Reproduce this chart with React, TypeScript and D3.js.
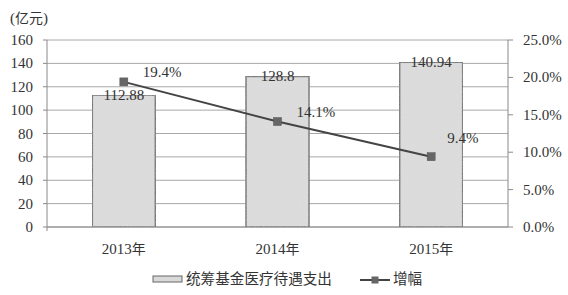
import React from "react";
import * as d3 from "d3";

const categories = ["2013年", "2014年", "2015年"];
const spending = [112.88, 128.8, 140.94];
const growth = [0.194, 0.141, 0.094];
const growthLabels = ["19.4%", "14.1%", "9.4%"];
const leftTicks = [0, 20, 40, 60, 80, 100, 120, 140, 160];
const rightTicks = [0, 0.05, 0.1, 0.15, 0.2, 0.25];
const seriesNames = ["统筹基金医疗待遇支出", "增幅"];
const unitLabel = "(亿元)";

const W = 568;
const H = 295;
const L = 47;
const R = 508;
const T = 40;
const B = 227;
const SERIF = '"Liberation Serif"';
const CJK = '"Noto Sans CJK SC"';
const TXT = "#333";
const ts = (size: number) => ({ fontFamily: SERIF, fontSize: size + "px" });
const cs = (size: number) => ({ fontFamily: CJK, fontSize: size + "px" });

// split mixed strings into latin / CJK runs so each gets its own font
function MixedText({ s, size }: { s: string; size: number }) {
  const runs: { t: string; cjk: boolean }[] = [];
  for (const ch of s) {
    const cjk = /[\u3000-\u9fff\uff00-\uffef]/.test(ch);
    const last = runs[runs.length - 1];
    if (last && last.cjk === cjk) last.t += ch;
    else runs.push({ t: ch, cjk });
  }
  return (
    <>
      {runs.map((r, i) => (
        <tspan key={i} style={r.cjk ? cs(size * 0.93) : ts(size)}>
          {r.t}
        </tspan>
      ))}
    </>
  );
}

export default function App() {
  const x = d3.scaleBand<string>().domain(categories).range([L, R]).padding(0);
  const yL = d3.scaleLinear().domain([0, 160]).range([B, T]);
  const yR = d3.scaleLinear().domain([0, 0.25]).range([B, T]);
  const barW = x.bandwidth() * 0.41;
  const cx = (c: string) => (x(c) as number) + x.bandwidth() / 2;
  const line = d3
    .line<number>()
    .x((_, i) => cx(categories[i]))
    .y((d) => yR(d));
  const labelOffsets = [
    [19, -5],
    [19, -5],
    [16, -14],
  ];

  return (
    <svg
      width={W}
      height={H}
      style={{ position: "absolute", left: 0, top: 0, background: "#fff" }}
    >
      <defs>
        <filter id="noise" x="0" y="0" width="100%" height="100%">
          <feTurbulence type="fractalNoise" baseFrequency="0.9" numOctaves="1" seed="3" result="n" />
          <feColorMatrix
            in="n"
            type="matrix"
            values="0 0 0 0 0.80  0 0 0 0 0.80  0 0 0 0 0.80  0 0 0 0.35 0"
            result="c"
          />
          <feComposite in="c" in2="SourceGraphic" operator="in" result="m" />
          <feMerge>
            <feMergeNode in="SourceGraphic" />
            <feMergeNode in="m" />
          </feMerge>
        </filter>
      </defs>
      <text x={10} y={23} fill={TXT}>
        <MixedText s={unitLabel} size={15} />
      </text>
      {leftTicks.map((t) => (
        <line key={"g" + t} x1={L} x2={R} y1={yL(t)} y2={yL(t)} stroke="#a8a8a8" strokeWidth={1} />
      ))}
      <line x1={L} x2={L} y1={T} y2={B + 4} stroke="#8a8a8a" strokeWidth={1} />
      {leftTicks.map((t) => (
        <g key={"l" + t}>
          <line x1={L - 4} x2={L} y1={yL(t)} y2={yL(t)} stroke="#8a8a8a" />
          <text x={33} y={yL(t) + 5} textAnchor="end" style={ts(15)} fill={TXT}>
            {t}
          </text>
        </g>
      ))}
      <line x1={R} x2={R} y1={T} y2={B} stroke="#8a8a8a" strokeWidth={1} />
      {rightTicks.map((t) => (
        <g key={"r" + t}>
          <line x1={R} x2={R + 5} y1={yR(t)} y2={yR(t)} stroke="#8a8a8a" />
          <text x={523} y={yR(t) + 5} style={ts(15)} fill={TXT}>
            {(t * 100).toFixed(1) + "%"}
          </text>
        </g>
      ))}
      <line x1={L} x2={R} y1={B} y2={B} stroke="#8a8a8a" strokeWidth={1} />
      {spending.map((v, i) => (
        <rect
          key={"b" + i}
          x={cx(categories[i]) - barW / 2}
          y={yL(v)}
          width={barW}
          height={B - yL(v)}
          fill="#d9d9d9"
          stroke="#5a5a5a"
          strokeWidth={1.5}
          filter="url(#noise)"
        />
      ))}
      {spending.map((v, i) => (
        <text
          key={"bl" + i}
          x={cx(categories[i])}
          y={yL(v) + 5}
          textAnchor="middle"
          style={ts(15)}
          fill={TXT}
        >
          {String(v)}
        </text>
      ))}
      <path d={line(growth) || ""} fill="none" stroke="#444" strokeWidth={2} />
      {growth.map((g, i) => (
        <rect
          key={"m" + i}
          x={cx(categories[i]) - 4}
          y={yR(g) - 4}
          width={8}
          height={8}
          fill="#666"
          stroke="#555"
          strokeWidth={0.5}
        />
      ))}
      {growth.map((g, i) => (
        <text
          key={"gl" + i}
          x={cx(categories[i]) + labelOffsets[i][0]}
          y={yR(g) + labelOffsets[i][1]}
          style={ts(15)}
          fill={TXT}
        >
          {growthLabels[i]}
        </text>
      ))}
      {categories.map((c) => (
        <text key={"x" + c} x={cx(c)} y={254} textAnchor="middle" fill={TXT}>
          <MixedText s={c} size={15} />
        </text>
      ))}
      <rect x={153} y={276} width={29} height={6} fill="#d9d9d9" stroke="#666" strokeWidth={1} />
      <text x={186} y={284} style={cs(14.6)} fill={TXT}>
        {seriesNames[0]}
      </text>
      <line x1={360} x2={390} y1={280} y2={280} stroke="#444" strokeWidth={2} />
      <rect x={371.5} y={276.5} width={7} height={7} fill="#666" />
      <text x={393} y={284} style={cs(14.6)} fill={TXT}>
        {seriesNames[1]}
      </text>
    </svg>
  );
}
